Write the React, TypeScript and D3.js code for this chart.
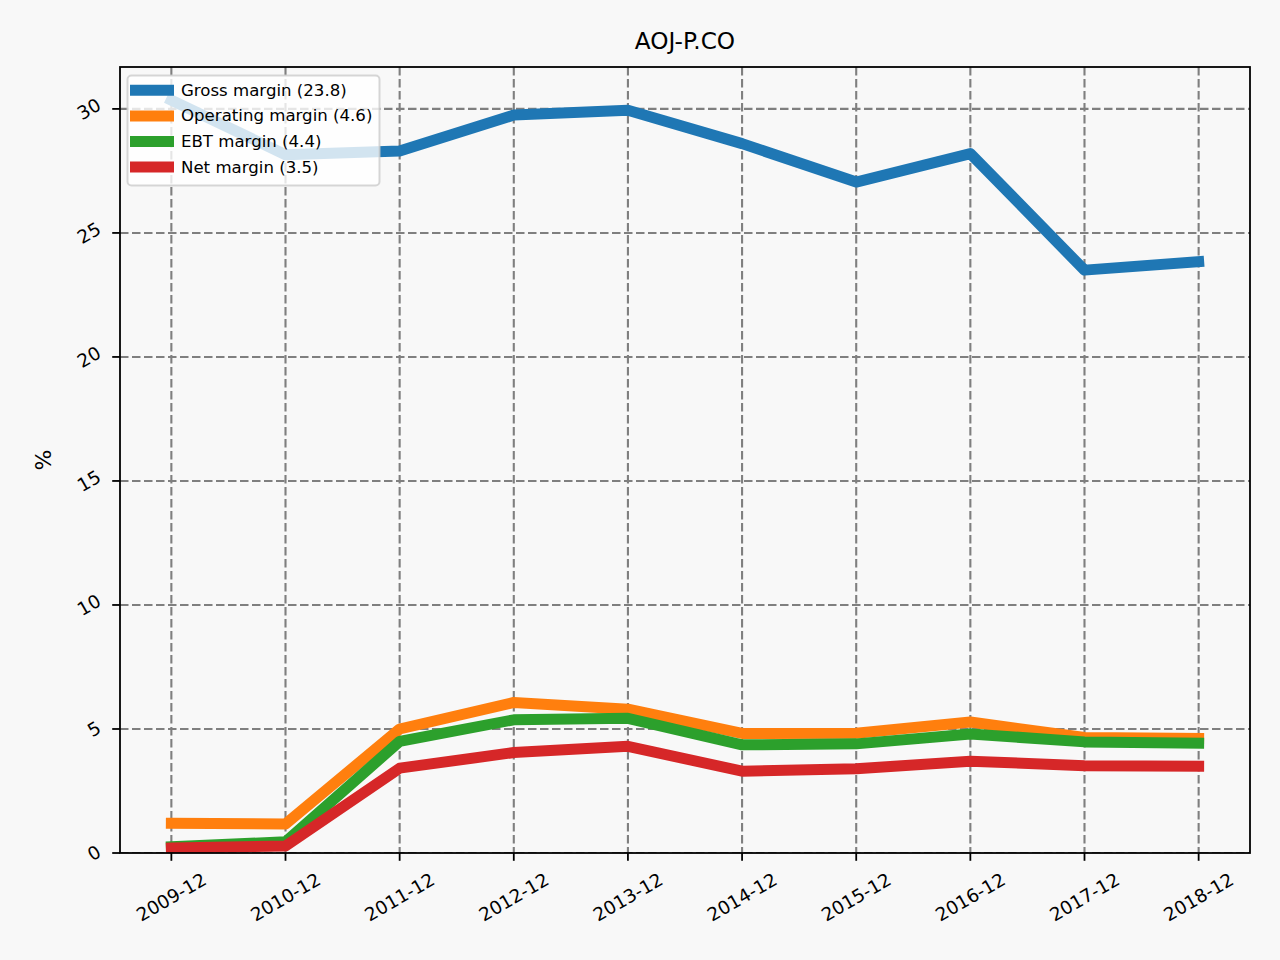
import { useEffect, useRef } from 'react';
import * as d3 from 'd3';

// Fiscal years on the x axis
const periods = ['2009-12', '2010-12', '2011-12', '2012-12', '2013-12', '2014-12', '2015-12', '2016-12', '2017-12', '2018-12'];

// Margin series, in %
const grossMargin = [30.35, 28.15, 28.3, 29.75, 29.95, 28.6, 27.05, 28.2, 23.5, 23.84];
const operatingMargin = [1.2, 1.17, 5.0, 6.07, 5.8, 4.82, 4.83, 5.28, 4.66, 4.62];
const ebtMargin = [0.25, 0.45, 4.5, 5.37, 5.43, 4.36, 4.4, 4.8, 4.48, 4.43];
const netMargin = [0.2, 0.28, 3.42, 4.05, 4.3, 3.3, 3.4, 3.7, 3.52, 3.5];

const seriesNames = ['Gross margin', 'Operating margin', 'EBT margin', 'Net margin'];
const seriesColors = ['#1f77b4', '#ff7f0e', '#2ca02c', '#d62728'];
const yTicks = [0, 5, 10, 15, 20, 25, 30];

const title = 'AOJ-P.CO';
const yLabel = '%';

const FONT = '"DejaVu Sans", sans-serif';

export default function App() {
  const ref = useRef<SVGSVGElement | null>(null);

  useEffect(() => {
    if (!ref.current) return;
    const svg = d3.select(ref.current);
    svg.selectAll('*').remove();

    const W = 1280;
    const H = 960;
    const box = { left: 120, right: 1250, top: 67, bottom: 853 };
    const bg = '#f8f8f8';

    svg.append('rect').attr('width', W).attr('height', H).attr('fill', bg);

    const series = [grossMargin, operatingMargin, ebtMargin, netMargin];

    // point scale with matplotlib-like 5% margins on each side
    const step = (box.right - box.left) / (periods.length - 1 + 0.9);
    const x = d3.scalePoint<string>()
      .domain(periods)
      .range([box.left + step * 0.45, box.right - step * 0.45]);

    const y = d3.scaleLinear()
      .domain([0, 31.69])
      .range([box.bottom, box.top]);

    // grid
    const grid = svg.append('g')
      .attr('stroke', '#7f7f7f')
      .attr('stroke-width', 2.1)
      .attr('stroke-dasharray', '8.5,3.5');
    grid.selectAll('.gx')
      .data(periods)
      .enter()
      .append('line')
      .attr('x1', d => x(d)!)
      .attr('x2', d => x(d)!)
      .attr('y1', box.top)
      .attr('y2', box.bottom);
    grid.selectAll('.gy')
      .data(yTicks)
      .enter()
      .append('line')
      .attr('x1', box.left)
      .attr('x2', box.right)
      .attr('y1', d => y(d))
      .attr('y2', d => y(d));

    // lines
    const line = d3.line<number>()
      .x((_, i) => x(periods[i])!)
      .y(d => y(d));

    series.forEach((s, i) => {
      svg.append('path')
        .datum(s)
        .attr('fill', 'none')
        .attr('stroke', seriesColors[i])
        .attr('stroke-width', 11)
        .attr('stroke-linejoin', 'round')
        .attr('stroke-linecap', 'square')
        .attr('d', line);
    });

    // clip anything beyond the axes frame
    svg.append('path')
      .attr('fill', bg)
      .attr('fill-rule', 'evenodd')
      .attr('d', `M0,0H${W}V${H}H0Z M${box.left},${box.top}H${box.right}V${box.bottom}H${box.left}Z`);

    // frame
    svg.append('rect')
      .attr('x', box.left)
      .attr('y', box.top)
      .attr('width', box.right - box.left)
      .attr('height', box.bottom - box.top)
      .attr('fill', 'none')
      .attr('stroke', '#000')
      .attr('stroke-width', 1.8);

    const tickLen = 7.8;
    const pad = 7.8;
    const tickFont = 18.4;

    // x ticks + rotated labels
    const xAxis = svg.append('g');
    periods.forEach(p => {
      const px = x(p)!;
      xAxis.append('line')
        .attr('x1', px).attr('x2', px)
        .attr('y1', box.bottom).attr('y2', box.bottom + tickLen)
        .attr('stroke', '#000').attr('stroke-width', 1.8);
      const t = xAxis.append('text')
        .attr('text-anchor', 'middle')
        .attr('dominant-baseline', 'central')
        .style('font-family', FONT)
        .style('font-size', `${tickFont}px`)
        .attr('fill', '#000')
        .text(p);
      const w = (t.node() as SVGTextElement).getComputedTextLength();
      const h = tickFont * 1.16;
      const vExt = w * 0.5 + h * 0.866;
      t.attr('transform', `translate(${px},${box.bottom + tickLen + pad + vExt / 2}) rotate(-30)`);
    });

    // y ticks + rotated labels
    const yAxis = svg.append('g');
    yTicks.forEach(v => {
      const py = y(v);
      yAxis.append('line')
        .attr('x1', box.left - tickLen).attr('x2', box.left)
        .attr('y1', py).attr('y2', py)
        .attr('stroke', '#000').attr('stroke-width', 1.8);
      const t = yAxis.append('text')
        .attr('text-anchor', 'middle')
        .attr('dominant-baseline', 'central')
        .style('font-family', FONT)
        .style('font-size', `${tickFont}px`)
        .attr('fill', '#000')
        .text(String(v));
      const w = (t.node() as SVGTextElement).getComputedTextLength();
      const h = tickFont * 1.16;
      const hExt = w * 0.866 + h * 0.5;
      t.attr('transform', `translate(${box.left - tickLen - pad - hExt / 2},${py}) rotate(-30)`);
    });

    // title
    svg.append('text')
      .attr('x', (box.left + box.right) / 2)
      .attr('y', 49)
      .attr('text-anchor', 'middle')
      .style('font-family', FONT)
      .style('font-size', '23.2px')
      .attr('fill', '#000')
      .text(title);

    // y label
    svg.append('text')
      .attr('transform', `translate(51,${(box.top + box.bottom) / 2}) rotate(-90)`)
      .attr('text-anchor', 'middle')
      .style('font-family', FONT)
      .style('font-size', '22px')
      .attr('fill', '#000')
      .text(yLabel);

    // legend
    const lg = svg.append('g');
    lg.append('rect')
      .attr('x', 127.5)
      .attr('y', 75.5)
      .attr('width', 252)
      .attr('height', 110)
      .attr('rx', 4)
      .attr('fill', '#ffffff')
      .attr('fill-opacity', 0.8)
      .attr('stroke', '#cccccc')
      .attr('stroke-opacity', 0.8)
      .attr('stroke-width', 2);

    series.forEach((s, i) => {
      const ry = 90.3 + i * 25.6;
      lg.append('line')
        .attr('x1', 135.5).attr('x2', 168.5)
        .attr('y1', ry).attr('y2', ry)
        .attr('stroke', seriesColors[i])
        .attr('stroke-width', 11)
        .attr('stroke-linecap', 'square');
      lg.append('text')
        .attr('x', 181)
        .attr('y', ry)
        .attr('dominant-baseline', 'central')
        .style('font-family', FONT)
        .style('font-size', '16.6px')
        .attr('fill', '#000')
        .text(`${seriesNames[i]} (${s[s.length - 1].toFixed(1)})`);
    });
  }, []);

  return (
    <svg
      ref={ref}
      width={1280}
      height={960}
      style={{ display: 'block', position: 'absolute', left: 0, top: 0 }}
    />
  );
}
